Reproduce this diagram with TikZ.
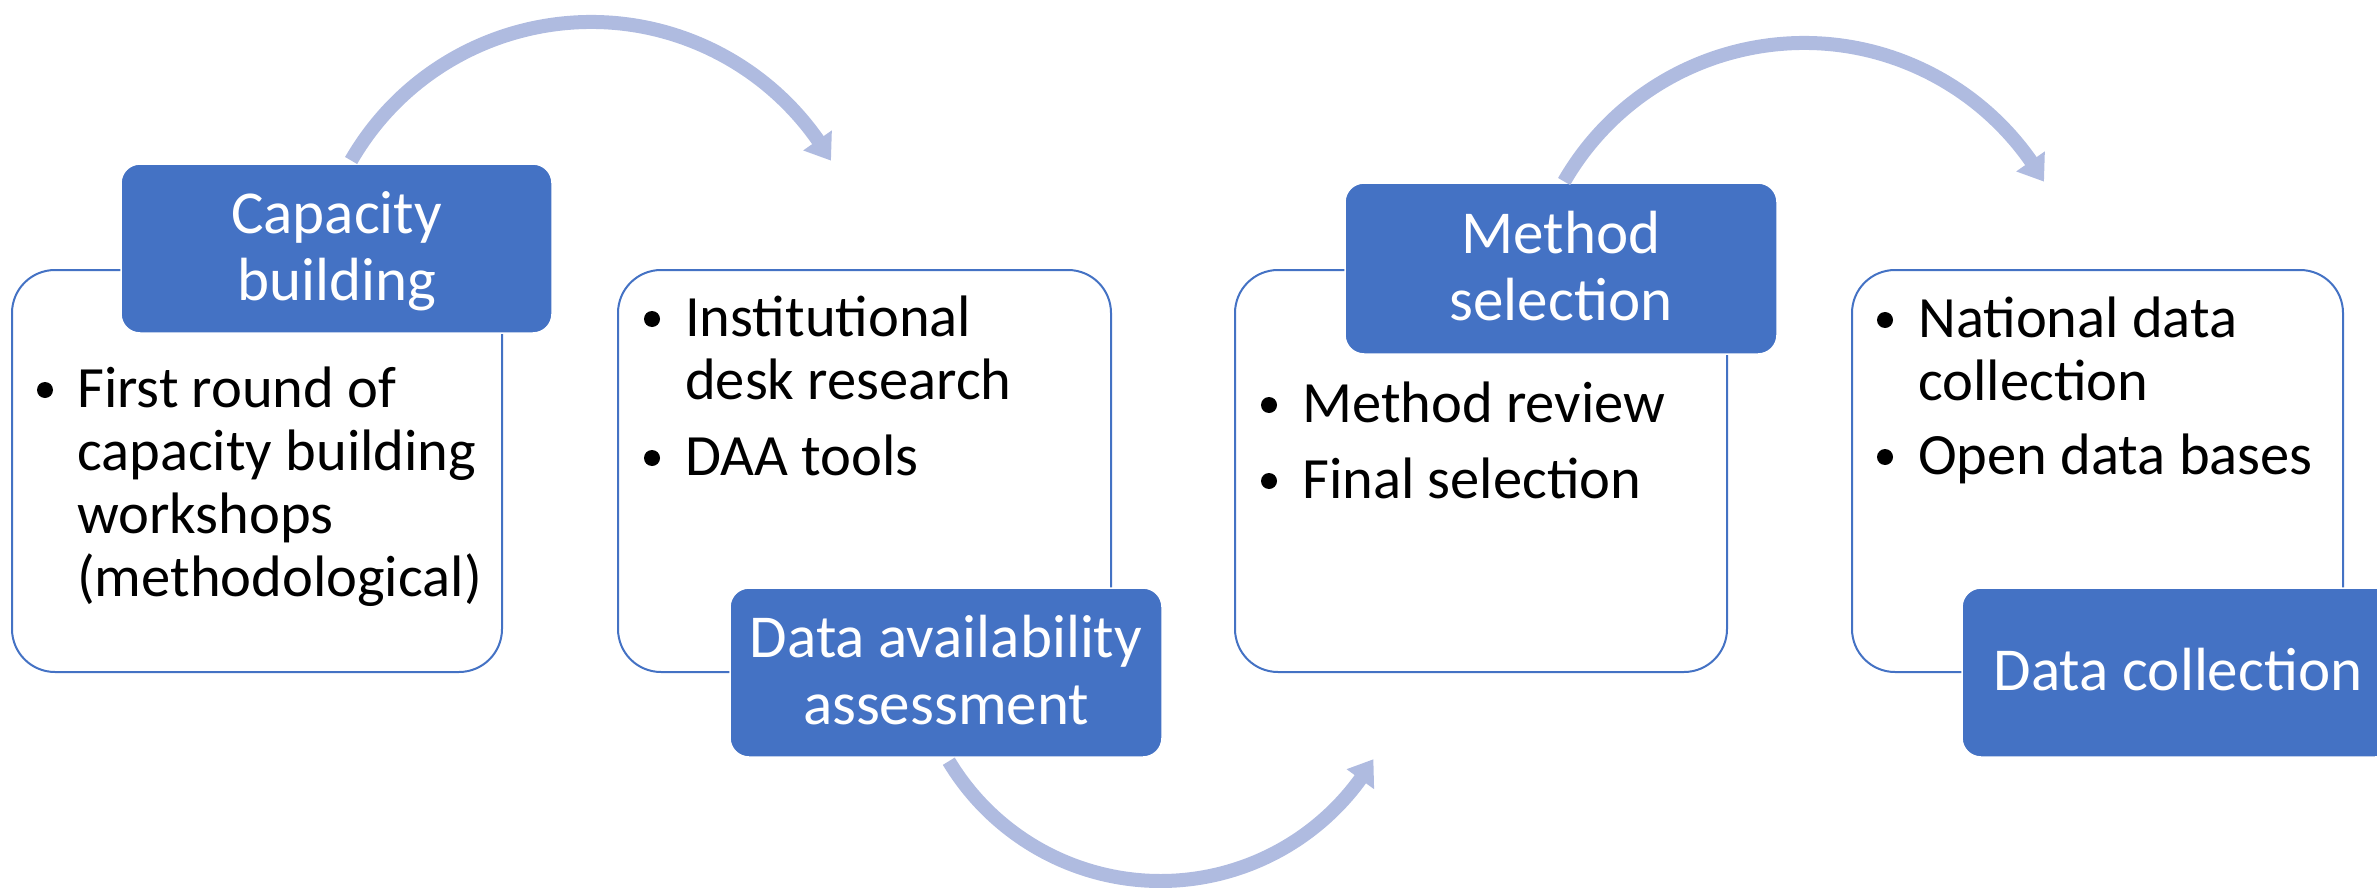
\documentclass[tikz,border=0pt]{standalone}
\usepackage{fontspec}
\setmainfont{Carlito}
\usetikzlibrary{calc}
\definecolor{accent}{HTML}{4472C4}
\definecolor{arrowc}{RGB}{175,187,224}
\tikzset{
  card/.style={draw=accent, line width=2pt, fill=white, rounded corners=43pt, inner sep=0pt},
  hdrbox/.style={fill=accent, draw=white, line width=1.5pt, rounded corners=19pt, inner sep=0pt},
  hdrtext/.style={text=white, anchor=base, inner sep=0pt, font=\fontsize{61pt}{67pt}\selectfont},
  itemtext/.style={anchor=base west, inner sep=0pt, font=\fontsize{58.5pt}{63pt}\selectfont},
  bul/.style={circle, fill=black, inner sep=0pt, minimum size=16pt},
  flow/.style={draw=arrowc, line width=14pt},
  flowhead/.style={fill=arrowc},
}
\begin{document}
\begin{tikzpicture}[x=1pt,y=-1pt]
\useasboundingbox (0,0) rectangle (2377,888);
\clip (0,0) rectangle (2377,888);

% white cards
\node[card, minimum width=490pt, minimum height=402pt] (card1) at (257,471) {};
\node[card, minimum width=493pt, minimum height=402pt] (card2) at (864.5,471) {};
\node[card, minimum width=492pt, minimum height=402pt] (card3) at (1481,471) {};
\node[card, minimum width=491pt, minimum height=402pt] (card4) at (2097.5,471) {};

% headers
\node[hdrbox, minimum width=431pt, minimum height=169pt] (h1) at (336.5,248.5) {};
\node[hdrbox, minimum width=432pt, minimum height=169pt] (h2) at (946,672.5) {};
\node[hdrbox, minimum width=432pt, minimum height=171pt] (h3) at (1561,268.5) {};
\node[hdrbox, minimum width=432pt, minimum height=169pt] (h4) at (2178,672.5) {};

\node[hdrtext] (h1t) at (336.5,233) {\parbox[t]{420pt}{\centering Capacity\\building}};
\node[hdrtext] (h2t) at (946,657) {\parbox[t]{420pt}{\centering Data availability\\assessment}};
\node[hdrtext] (h3t) at (1561,253.5) {\parbox[t]{420pt}{\centering Method\\selection}};
\node[hdrtext] (h4t) at (2178,690) {Data collection};

% card 1 items
\node[bul] (b11) at (45,390) {};
\node[itemtext] (t11) at (77,407) {\parbox[t]{420pt}{\raggedright First round of\\capacity building\\workshops\\(methodological)}};

% card 2 items
\node[bul] (b21) at (652,319) {};
\node[itemtext] (t21) at (685,336) {\parbox[t]{420pt}{\raggedright Institutional\\desk research}};
\node[bul] (b22) at (652,458) {};
\node[itemtext] (t22) at (685,475) {DAA tools};

% card 3 items
\node[bul] (b31) at (1269,405) {};
\node[itemtext] (t31) at (1302,422) {Method review};
\node[bul] (b32) at (1269,481) {};
\node[itemtext] (t32) at (1302,498) {Final selection};

% card 4 items
\node[bul] (b41) at (1885,320) {};
\node[itemtext] (t41) at (1918,337) {\parbox[t]{420pt}{\raggedright National data\\collection}};
\node[bul] (b42) at (1885,457) {};
\node[itemtext] (t42) at (1918,474) {Open data bases};

% circular arrows
\coordinate (c1) at (591,299);
\draw[flow] ($(c1)+(150:277pt)$) arc[start angle=150, end angle=34.5, radius=277pt];
\fill[flowhead] ($(c1)+(35:259pt)$) -- ($(c1)+(35:294pt)$) -- ($(c1)+(30:277pt)$) -- cycle;

\coordinate (c2) at (1160.5,634);
\draw[flow] ($(c2)+(211:247pt)$) arc[start angle=211, end angle=324.5, radius=247pt];
\fill[flowhead] ($(c2)+(324:230pt)$) -- ($(c2)+(324:264pt)$) -- ($(c2)+(329.5:247pt)$) -- cycle;

\coordinate (c3) at (1804,320);
\draw[flow] ($(c3)+(150:277pt)$) arc[start angle=150, end angle=34.5, radius=277pt];
\fill[flowhead] ($(c3)+(35:259pt)$) -- ($(c3)+(35:294pt)$) -- ($(c3)+(30:277pt)$) -- cycle;
\end{tikzpicture}
\end{document}
